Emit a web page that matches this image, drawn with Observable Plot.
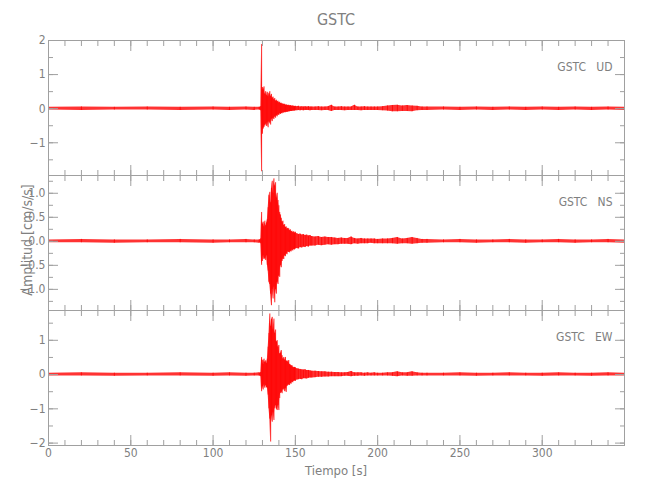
<!DOCTYPE html>
<html><head><meta charset="utf-8">
<script src="https://cdn.jsdelivr.net/npm/d3@7"></script>
<script src="https://cdn.jsdelivr.net/npm/@observablehq/plot@0.6"></script>
<style>
body{margin:0;background:#fff;}
#fig{position:relative;width:650px;height:500px;background:#fff;font-family:"Liberation Sans Narrow","DejaVu Sans Condensed",sans-serif;color:#808080;overflow:hidden;}
#fig svg{position:absolute;left:0;}
.lbl{position:absolute;white-space:nowrap;line-height:1;}
</style></head><body><div id="fig"></div>
<script>
const title = "GSTC";
const station = "GSTC";
const components = ["UD", "NS", "EW"];
const xLabel = "Tiempo [s]";
const yLabel = "Amplitud [cm/s/s]";

const time = [0,20,40,60,80,100,110,120,125,128,
128.5,129,129.5,130,130.5,131,131.5,132,132.5,133,133.5,134,134.5,135,135.5,136,136.5,137,137.5,138,138.5,139,139.5,140,140.5,141,141.5,142,142.5,143,143.5,144,144.5,145,145.5,146,146.5,147,147.5,148,148.5,149,149.5,150,
151,152,153,154,155,156,157,158,159,160,
162,164,166,168,170,172,174,176,178,180,182,184,186,188,190,192,194,196,198,200,
203,206,209,212,215,218,221,224,227,230,
240,250,260,270,280,290,300,310,320,330,340,350];

const udHi = [0.04,0.05,0.04,0.05,0.04,0.05,0.04,0.05,0.04,0.04,
0.04,0.06,1.88,0.62,0.55,0.64,0.42,0.5,0.38,0.48,0.35,0.44,0.5,0.36,0.42,0.3,0.34,0.26,0.3,0.22,0.25,0.2,0.22,0.17,0.19,0.15,0.16,0.13,0.14,0.12,0.13,0.1,0.11,0.1,0.09,0.1,0.08,0.09,0.08,0.07,0.08,0.07,0.06,0.07,
0.06,0.07,0.05,0.06,0.05,0.06,0.05,0.06,0.05,0.05,
0.05,0.06,0.05,0.05,0.06,0.1,0.05,0.05,0.06,0.05,0.05,0.05,0.1,0.05,0.05,0.06,0.05,0.05,0.05,0.05,
0.06,0.08,0.09,0.1,0.08,0.09,0.08,0.07,0.05,0.05,
0.05,0.04,0.05,0.04,0.05,0.04,0.05,0.04,0.05,0.04,0.05,0.04];
const udLo = [-0.04,-0.05,-0.04,-0.04,-0.05,-0.04,-0.05,-0.04,-0.05,-0.04,
-0.04,-0.06,-1.85,-0.75,-0.6,-0.55,-0.5,-0.45,-0.52,-0.4,-0.56,-0.38,-0.42,-0.48,-0.3,-0.38,-0.28,-0.32,-0.24,-0.28,-0.2,-0.24,-0.18,-0.2,-0.15,-0.17,-0.14,-0.15,-0.12,-0.13,-0.11,-0.12,-0.1,-0.11,-0.1,-0.09,-0.09,-0.08,-0.08,-0.08,-0.07,-0.07,-0.07,-0.06,
-0.06,-0.05,-0.06,-0.05,-0.06,-0.05,-0.05,-0.05,-0.06,-0.05,
-0.05,-0.05,-0.06,-0.05,-0.05,-0.08,-0.05,-0.05,-0.05,-0.06,-0.05,-0.05,-0.05,-0.05,-0.06,-0.05,-0.05,-0.05,-0.05,-0.05,
-0.06,-0.07,-0.09,-0.09,-0.08,-0.08,-0.09,-0.06,-0.05,-0.05,
-0.04,-0.05,-0.04,-0.05,-0.04,-0.05,-0.04,-0.05,-0.04,-0.05,-0.04,-0.05];

const nsHi = [0.03,0.04,0.03,0.03,0.04,0.03,0.03,0.04,0.03,0.03,
0.03,0.05,0.6,0.35,0.4,0.3,0.42,0.32,0.38,0.45,0.7,0.95,1.02,0.8,1.1,1.25,1.0,1.3,1.15,1.22,0.9,1.0,0.85,0.74,0.6,0.55,0.48,0.4,0.42,0.33,0.35,0.29,0.3,0.25,0.27,0.26,0.22,0.24,0.2,0.21,0.18,0.2,0.17,0.19,
0.16,0.14,0.15,0.13,0.14,0.12,0.13,0.11,0.12,0.1,
0.09,0.1,0.08,0.09,0.08,0.08,0.07,0.06,0.07,0.06,0.06,0.09,0.06,0.05,0.06,0.05,0.05,0.05,0.05,0.04,
0.05,0.05,0.06,0.08,0.05,0.06,0.08,0.06,0.04,0.04,
0.03,0.04,0.03,0.03,0.04,0.03,0.03,0.04,0.03,0.03,0.04,0.03];
const nsLo = [-0.03,-0.03,-0.04,-0.03,-0.03,-0.04,-0.03,-0.03,-0.03,-0.04,
-0.03,-0.05,-0.5,-0.42,-0.3,-0.38,-0.35,-0.4,-0.3,-0.5,-0.62,-0.85,-0.9,-1.1,-1.34,-1.0,-1.2,-0.95,-1.28,-1.0,-1.1,-0.85,-0.9,-0.72,-0.75,-0.5,-0.55,-0.42,-0.37,-0.38,-0.3,-0.32,-0.26,-0.28,-0.22,-0.23,-0.24,-0.2,-0.22,-0.18,-0.2,-0.17,-0.18,-0.16,
-0.15,-0.16,-0.13,-0.14,-0.12,-0.13,-0.11,-0.12,-0.1,-0.1,
-0.1,-0.08,-0.09,-0.08,-0.07,-0.08,-0.07,-0.07,-0.06,-0.06,-0.06,-0.07,-0.05,-0.06,-0.05,-0.05,-0.05,-0.04,-0.05,-0.05,
-0.05,-0.05,-0.05,-0.06,-0.05,-0.05,-0.06,-0.05,-0.04,-0.04,
-0.03,-0.03,-0.04,-0.03,-0.03,-0.04,-0.03,-0.03,-0.04,-0.03,-0.03,-0.04];

const ewHi = [0.04,0.05,0.04,0.04,0.05,0.04,0.05,0.04,0.04,0.05,
0.04,0.06,0.5,0.42,0.3,0.45,0.35,0.4,0.32,0.45,0.8,1.2,1.77,1.4,1.6,1.67,1.3,1.62,1.2,1.3,0.95,0.99,0.8,0.85,0.6,0.62,0.7,0.55,0.45,0.5,0.42,0.5,0.38,0.4,0.36,0.41,0.3,0.28,0.25,0.26,0.22,0.2,0.21,0.2,
0.17,0.16,0.15,0.14,0.13,0.14,0.12,0.12,0.11,0.1,
0.1,0.09,0.08,0.08,0.07,0.07,0.06,0.06,0.05,0.05,0.06,0.09,0.05,0.05,0.05,0.04,0.05,0.04,0.05,0.04,
0.04,0.05,0.05,0.08,0.05,0.05,0.08,0.05,0.04,0.04,
0.04,0.05,0.04,0.04,0.05,0.04,0.04,0.05,0.04,0.04,0.05,0.04];
const ewLo = [-0.04,-0.04,-0.05,-0.04,-0.04,-0.05,-0.04,-0.05,-0.04,-0.04,
-0.04,-0.06,-0.5,-0.35,-0.45,-0.3,-0.4,-0.32,-0.38,-0.4,-0.6,-1.0,-1.3,-1.97,-1.2,-1.39,-1.1,-1.34,-1.0,-0.9,-1.0,-1.05,-0.9,-1.05,-0.7,-0.55,-0.5,-0.56,-0.45,-0.42,-0.5,-0.4,-0.52,-0.35,-0.32,-0.3,-0.32,-0.26,-0.28,-0.22,-0.24,-0.2,-0.18,-0.2,
-0.16,-0.15,-0.14,-0.15,-0.12,-0.12,-0.13,-0.11,-0.1,-0.1,
-0.09,-0.08,-0.08,-0.07,-0.07,-0.06,-0.06,-0.06,-0.06,-0.05,-0.05,-0.06,-0.05,-0.05,-0.04,-0.05,-0.04,-0.04,-0.04,-0.04,
-0.04,-0.04,-0.05,-0.06,-0.04,-0.05,-0.05,-0.04,-0.04,-0.04,
-0.04,-0.04,-0.05,-0.04,-0.04,-0.04,-0.05,-0.04,-0.04,-0.05,-0.04,-0.04];

const xDomain = [0, 350];
const xMajor = [0,50,100,150,200,250,300,350];
const xMinor = [0,10,20,30,40,50,60,70,80,90,100,110,120,130,140,150,160,170,180,190,200,210,220,230,240,250,260,270,280,290,300,310,320,330,340,350];
const yDomains = [[-1.96, 2.0], [-1.44, 1.37], [-2.07, 1.87]];
const yMajor = [[-1,0,1,2], [-1,-0.5,0,0.5,1], [-2,-1,0,1]];
const yMinor = [[-1.5,-1,-0.5,0,0.5,1,1.5,2], [-1.25,-1,-0.75,-0.5,-0.25,0,0.25,0.5,0.75,1,1.25], [-2,-1.5,-1,-0.5,0,0.5,1,1.5]];
const yFormats = [".0f", ".1f", ".0f"];
const his = [udHi, nsHi, ewHi];
const los = [udLo, nsLo, ewLo];

const FONT = '"Liberation Sans Narrow","DejaVu Sans Condensed",sans-serif';
const AX = "#a0a0a0", TX = "#808080";
const tops = [40, 175, 310];
const fig = document.getElementById("fig");
const none = () => "";

components.forEach((comp, i) => {
  const last = i === components.length - 1;
  const data = time.map((t, k) => ({t, hi: his[i][k], lo: los[i][k]}));
  const fmt = d3.format(yFormats[i]);
  const svg = Plot.plot({
    width: 650, height: last ? 160 : 135,
    marginLeft: 48, marginRight: 26, marginTop: 0, marginBottom: last ? 25 : 0,
    style: {overflow: "visible", background: "transparent", fontFamily: FONT, fontSize: "12px", color: TX},
    x: {domain: xDomain, label: null},
    y: {domain: yDomains[i], label: null},
    marks: [
      Plot.areaY(data, {x: "t", y1: "lo", y2: "hi", fill: "#ff0000", fillOpacity: 0.8}),
      Plot.ruleX(data, {x: "t", y1: "lo", y2: "hi", stroke: "#ff0000", strokeWidth: 0.8}),
      Plot.frame({stroke: AX}),
      Plot.axisX(xMinor, {anchor: "bottom", tickSize: -5, tickPadding: 0, tickFormat: none, stroke: AX, label: null}),
      Plot.axisX(xMajor, {anchor: "bottom", tickSize: -10, tickPadding: 13, tickFormat: last ? (d => d === 350 ? "" : String(d)) : none, stroke: AX, fill: TX, fontSize: 12, label: null}),
      Plot.axisX(xMinor, {anchor: "top", tickSize: -5, tickPadding: 0, tickFormat: none, stroke: AX, label: null}),
      Plot.axisX(xMajor, {anchor: "top", tickSize: -10, tickPadding: 0, tickFormat: none, stroke: AX, label: null}),
      Plot.axisY(yMinor[i], {anchor: "left", tickSize: -5, tickPadding: 0, tickFormat: none, stroke: AX, label: null}),
      Plot.axisY(yMajor[i], {anchor: "left", tickSize: -10, tickPadding: 13, tickFormat: fmt, stroke: AX, fill: TX, fontSize: 12, label: null}),
      Plot.axisY(yMinor[i], {anchor: "right", tickSize: -5, tickPadding: 0, tickFormat: none, stroke: AX, label: null}),
      Plot.axisY(yMajor[i], {anchor: "right", tickSize: -10, tickPadding: 0, tickFormat: none, stroke: AX, label: null}),
      Plot.text([station + "\u00a0\u00a0\u00a0" + comp], {frameAnchor: "top-right", dx: -12, dy: 22, textAnchor: "end", fill: TX, fontSize: 12, fontFamily: FONT})
    ]
  });
  svg.style.top = tops[i] + "px";
  fig.appendChild(svg);
});

function addLabel(text, css) {
  const d = document.createElement("div");
  d.className = "lbl";
  d.textContent = text;
  Object.assign(d.style, css);
  fig.appendChild(d);
}
addLabel(title, {left: "336px", top: "20px", transform: "translate(-50%,-50%)", fontSize: "16px"});
addLabel(xLabel, {left: "336px", top: "470px", transform: "translate(-50%,-50%)", fontSize: "13px"});
addLabel(yLabel, {left: "27px", top: "240px", transform: "translate(-50%,-50%) rotate(-90deg)", fontSize: "14px"});
</script></body></html>
